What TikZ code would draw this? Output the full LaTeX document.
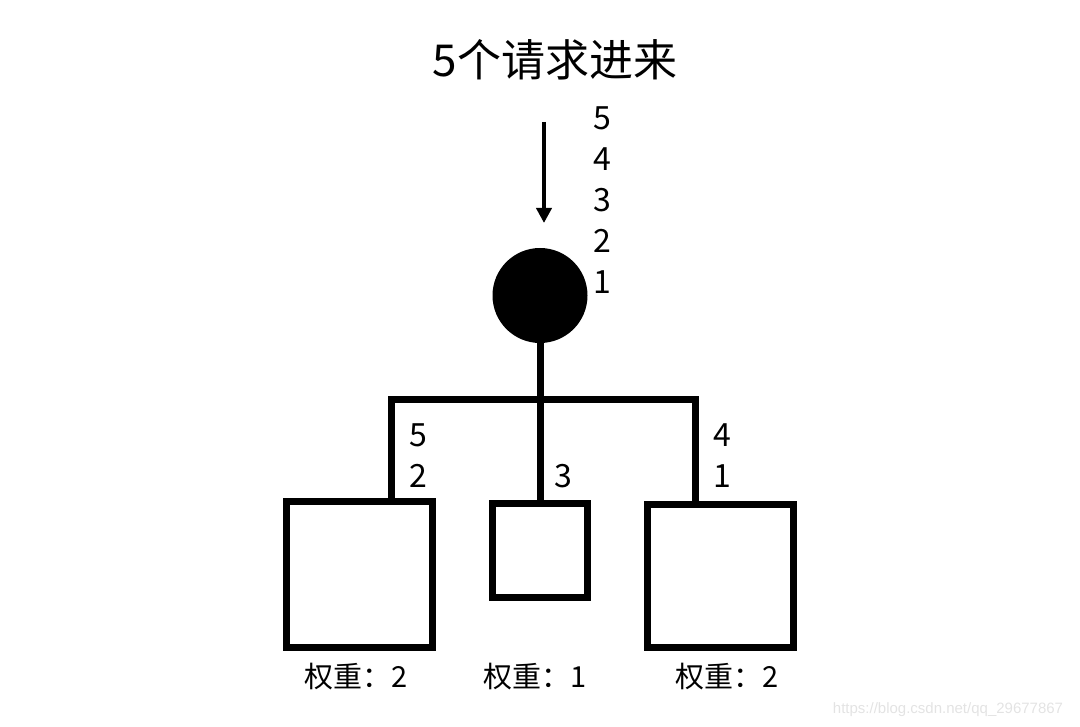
\documentclass[tikz,border=0pt]{standalone}
\usepackage{fontspec}
\setmainfont{Noto Sans CJK SC}
\newfontfamily\markfont{Liberation Sans}
\usetikzlibrary{positioning,arrows.meta}

\begin{document}
\begin{tikzpicture}[x=1pt, y=-1pt, node distance={41pt},
    wire/.style = {line width=7pt},
    server/.style = {draw, line width=7pt, inner sep=0pt},
    num/.style = {font=\fontsize{32}{32}\selectfont, inner sep=0pt},
    weight/.style = {font=\fontsize{29}{29}\selectfont, inner sep=0pt}]
        \useasboundingbox (0,0) rectangle (1080,727);
        \node[font=\fontsize{44}{44}\selectfont, inner sep=0pt] (title) at (555,60) {5个请求进来};
        \node[circle, fill, minimum size=95pt, inner sep=0pt] (lb) at (540,295.5) {};

        \node[server, minimum width=146pt, minimum height=146pt] (s1) at (359.5,574.5) {};
        \node[server, minimum width=95pt, minimum height=94pt] (s2) at (540,550.5) {};
        \node[server, minimum width=146pt, minimum height=143pt] (s3) at (720.5,576) {};

        \coordinate (in) at (544,122);
        \coordinate (inend) at (544,223);
        \coordinate (bl) at (391,400);
        \coordinate (br) at (695,400);

        \draw[line width=4pt, -{Triangle[length=15pt, width=15pt]}] (in) -- (inend);
        \draw[wire] (lb.south) -- (s2.north);
        \draw[wire, line join=miter] (s1.north -| bl) -- (bl) -- (br) -- (s3.north -| br);

        \node[num] (q5) at (602,118) {5};
        \node[num] (q4) [below of = q5] {4};
        \node[num] (q3) [below of = q4] {3};
        \node[num] (q2) [below of = q3] {2};
        \node[num] (q1) [below of = q2] {1};

        \node[num] (l5) at (418,435) {5};
        \node[num] (l2) [below of = l5] {2};
        \node[num] (m3) at (563,476) {3};
        \node[num] (r4) at (722,435) {4};
        \node[num] (r1) [below of = r4] {1};

        \node[weight] (w1) at (356,677) {权重：2};
        \node[weight] (w2) at (535,677) {权重：1};
        \node[weight] (w3) at (727,677) {权重：2};

        \node[font=\markfont\fontsize{15}{15}\selectfont, text=black!11, inner sep=0pt] (mark) at (948,710) {https://blog.csdn.net/qq\_29677867};
    \end{tikzpicture}
\end{document}
